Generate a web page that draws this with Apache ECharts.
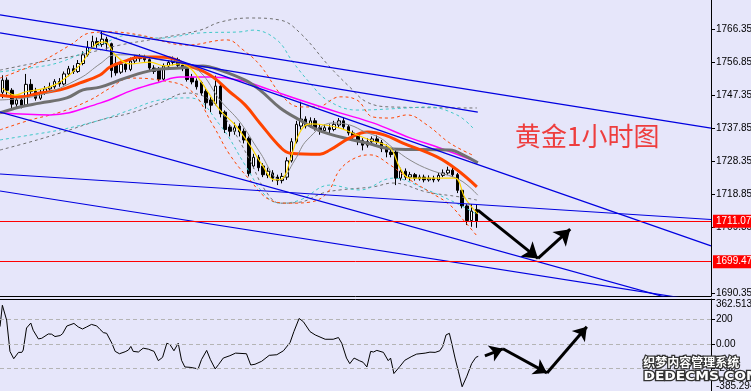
<!DOCTYPE html>
<html><head><meta charset="utf-8">
<script src="https://cdn.jsdelivr.net/npm/echarts@6/dist/echarts.min.js"></script>
<style>html,body{margin:0;padding:0;background:#e6e6fa}#c{width:751px;height:391px}</style>
</head><body><div id="c"></div>
<script>
// ---- tick labels ----
const priceTicks = [1766.35,1756.85,1747.35,1737.85,1728.35,1718.85,1709.35,1690.35];
const cciTicks = [362.5133, 200, 0, -200, -385.294];
const cciLabels = ['362.5133','200','0.00','-200','-385.294'];
const levels = [1711.07, 1699.47];

// ---- hourly candles: [open, close, low, high] ----
const candles = [
[1748.2,1751.7,1746.5,1753.1],[1751.7,1748.8,1747.5,1752.5],[1748.8,1744.8,1743.5,1749.4],[1744.8,1746.0,1744.0,1747.0],
[1746.0,1744.5,1743.6,1746.8],[1744.5,1750.5,1744.0,1753.5],[1750.5,1748.5,1747.5,1752.0],[1748.5,1746.5,1745.8,1749.5],
[1746.5,1748.0,1746.0,1749.0],[1748.0,1749.2,1747.5,1750.0],[1749.2,1749.8,1748.7,1751.0],[1749.8,1751.3,1749.2,1752.0],
[1751.3,1750.6,1749.8,1752.3],[1750.6,1753.5,1750.2,1754.2],[1753.5,1755.0,1752.8,1755.8],[1755.0,1754.2,1753.5,1756.0],
[1754.2,1756.5,1753.8,1757.5],[1756.5,1759.0,1756.0,1760.0],[1759.0,1761.2,1758.5,1763.0],[1761.2,1762.8,1760.8,1764.5],
[1762.8,1762.0,1761.0,1764.0],[1762.0,1763.5,1761.3,1765.8],[1763.5,1762.2,1760.5,1764.2],[1762.2,1754.5,1752.5,1762.5],
[1756.5,1753.8,1753.0,1758.5],[1754.0,1756.3,1753.5,1757.3],[1756.3,1754.8,1754.0,1757.5],[1754.8,1757.2,1754.3,1758.2],
[1757.2,1757.9,1756.5,1758.8],[1757.9,1758.3,1757.0,1759.2],[1758.3,1757.6,1757.0,1759.0],[1757.6,1755.2,1754.6,1758.0],
[1755.2,1754.2,1753.5,1756.0],[1754.8,1752.0,1751.3,1755.5],[1752.0,1755.8,1751.5,1756.5],[1755.8,1756.8,1755.0,1757.5],
[1756.8,1757.6,1756.0,1758.5],[1757.6,1756.0,1755.5,1758.2],[1756.0,1755.0,1754.3,1756.8],[1755.0,1751.9,1751.3,1755.8],
[1752.5,1751.2,1750.5,1753.5],[1751.5,1749.8,1749.0,1752.2],[1751.0,1748.0,1747.2,1751.5],[1748.5,1745.2,1743.5,1749.2],
[1746.0,1744.5,1742.5,1746.8],[1745.0,1750.0,1744.5,1753.0],[1750.0,1742.0,1741.0,1750.5],[1742.5,1737.5,1736.5,1743.0],
[1738.2,1737.0,1735.5,1739.0],[1737.0,1738.0,1736.0,1739.5],[1738.5,1736.8,1735.5,1739.3],[1737.0,1734.5,1733.5,1737.8],
[1735.0,1724.8,1724.0,1735.5],[1727.0,1729.5,1726.3,1730.5],[1729.5,1726.5,1725.5,1730.2],[1727.0,1724.5,1723.8,1727.8],
[1724.3,1725.5,1723.5,1726.5],[1725.0,1723.5,1722.5,1725.8],[1723.8,1722.8,1721.5,1724.5],[1722.8,1724.0,1722.0,1725.0],
[1723.8,1728.5,1723.0,1729.5],[1728.5,1734.0,1728.0,1735.0],[1734.0,1739.0,1733.5,1740.0],[1738.5,1740.5,1737.5,1745.5],
[1740.5,1738.5,1737.8,1741.3],[1738.5,1740.0,1738.0,1741.0],[1740.0,1738.0,1737.2,1740.8],[1738.0,1737.2,1736.0,1739.0],
[1737.2,1738.0,1736.5,1739.0],[1738.0,1737.5,1736.5,1739.0],[1737.5,1739.0,1737.0,1740.0],[1738.8,1740.0,1738.0,1740.8],
[1740.0,1738.3,1737.5,1741.0],[1738.3,1736.5,1735.8,1738.8],[1736.5,1735.5,1734.5,1737.2],[1735.8,1734.0,1733.0,1736.5],
[1734.3,1733.0,1731.5,1735.0],[1733.0,1734.0,1732.3,1735.0],[1734.0,1734.8,1733.3,1735.5],[1734.8,1734.0,1733.2,1735.8],
[1733.8,1732.0,1731.0,1734.5],[1732.5,1731.0,1729.5,1733.2],[1731.0,1730.3,1729.5,1732.0],[1731.0,1723.5,1721.5,1731.8],
[1723.5,1725.5,1722.8,1726.5],[1725.5,1723.8,1723.0,1726.3],[1723.8,1724.5,1722.8,1725.3],[1724.5,1723.5,1722.8,1725.0],
[1723.3,1723.8,1722.8,1724.5],[1723.8,1723.0,1722.3,1724.5],[1723.0,1723.5,1722.5,1724.3],[1723.5,1723.0,1722.3,1724.2],
[1723.0,1724.3,1722.5,1725.0],[1724.3,1725.0,1723.8,1726.0],[1725.0,1725.8,1724.5,1726.8],[1725.8,1724.5,1723.8,1726.5],
[1724.5,1720.0,1719.2,1725.0],[1720.0,1715.5,1714.8,1720.5],[1715.5,1711.3,1710.0,1716.0],[1711.3,1714.0,1709.5,1716.0],
[1714.5,1711.1,1709.2,1716.0]
];

// ---- moving averages: [bar, price] ----
const maYellow = [[0,1749.4],[2.7,1747.4],[4.8,1748.3],[9,1749.4],[12.2,1751.2],[16.4,1756.1],[19.5,1761.8],[21.6,1762.7],[23.8,1759.0],[26.9,1756.4],[31.1,1756.9],[34.3,1755.8],[37.5,1756.4],[39.6,1755.2],[41.7,1751.7],[43.8,1747.4],[45.9,1743.1],[49.1,1738.8],[52.2,1733.0],[54.8,1727.3],[57.5,1723.0],[59.2,1723.5],[60.7,1728.7],[62.8,1736.8],[64.9,1739.1],[68.0,1738.8],[71.2,1737.9],[73.3,1736.8],[77.5,1734.5],[81.8,1732.2],[83.9,1726.4],[86.0,1723.5],[92.3,1723.5],[95.5,1723.5],[97.6,1717.8],[100.3,1713.2]];
const maGrayThin = [[-0.5,1746.0],[7.9,1747.4],[16.4,1752.3],[20.6,1756.4],[23.8,1759.0],[28.0,1759.0],[33.3,1757.5],[37.5,1756.9],[41.7,1754.1],[45.9,1746.0],[50.1,1739.7],[54.3,1731.0],[58.6,1723.0],[61.7,1728.7],[64.3,1734.5],[69.7,1739.4],[73.3,1738.8],[76.5,1736.8],[79.7,1735.1],[82.4,1732.2],[86.0,1728.7],[90.2,1725.9],[96.5,1723.0],[100.3,1718.6]];
const maOrange = [[-0.5,1747.4],[3.7,1746.9],[7.9,1748.0],[12.2,1748.9],[16.4,1750.9],[20.6,1753.2],[22.7,1755.5],[25.9,1757.2],[29.0,1758.4],[32.2,1758.4],[35.4,1758.1],[38.9,1756.1],[43.8,1753.2],[48.0,1748.3],[51.2,1744.6],[54.3,1739.4],[58.6,1732.5],[60.7,1730.7],[67.0,1730.4],[69.1,1731.6],[73.3,1735.1],[77.1,1736.8],[80.7,1735.9],[84.5,1733.6],[91.7,1729.6],[95.9,1725.9],[100.1,1721.0]];
const maGrayThick = [[-0.5,1742.3],[3.7,1744.0],[7.9,1745.1],[13.6,1746.6],[17.0,1748.9],[20.6,1749.7],[25.9,1752.3],[31.8,1754.6],[37.5,1755.2],[42.3,1755.8],[45.9,1754.6],[51.2,1751.7],[54.3,1748.9],[58.6,1743.7],[62.8,1740.2],[67.6,1736.8],[76.9,1733.6],[82.4,1731.9],[94.4,1731.6],[97.6,1729.9],[100.3,1727.9]];
const maMagenta = [[-0.5,1742.3],[10.0,1741.7],[20.6,1745.1],[27.6,1748.9],[33.2,1751.2],[37.5,1752.6],[43.8,1752.6],[50.1,1751.7],[56.5,1748.9],[62.8,1746.0],[71.2,1742.3],[78.2,1739.4],[86.0,1735.1],[92.3,1732.2],[100.1,1728.2]];

// ---- envelope / band lines ----
const bandGrayUp = [[-0.5,1754.6],[7.9,1756.9],[16.4,1759.0],[24.8,1761.8],[33.2,1763.8],[41.7,1766.1],[45.9,1768.4],[52.2,1769.6],[58.6,1769.0],[62.8,1765.3],[69.1,1755.5],[73.3,1749.7],[76.9,1745.4],[81.8,1744.0],[100.1,1743.7]];
const bandGrayDn = [[-0.5,1731.6],[5.8,1733.9],[12.2,1736.5],[20.6,1740.2],[26.9,1742.2],[33.2,1745.1],[38.9,1748.0],[43.8,1746.0],[48.0,1738.8],[52.2,1728.7],[55.4,1720.1],[58.6,1716.3],[62.8,1716.6],[67.6,1719.2],[71.2,1720.1],[78.2,1721.0],[82.4,1722.1],[89.6,1719.5],[96.5,1718.1],[100.1,1717.2]];
const bandCyanUp = [[-0.5,1754.1],[5.8,1755.2],[12.2,1756.9],[20.6,1761.8],[26.9,1764.7],[33.2,1763.8],[41.7,1765.3],[50.1,1765.6],[52.9,1766.1],[57.9,1763.3],[61.3,1756.9],[64.9,1750.9],[68.5,1746.0],[74.8,1743.1],[85.4,1743.7],[89.6,1744.0],[95.9,1741.7],[99.3,1737.9]];
const bandCyanDn = [[-0.5,1734.5],[5.8,1735.9],[12.2,1737.4],[20.6,1740.2],[26.9,1743.1],[33.2,1746.0],[39.6,1746.6],[45.9,1738.8],[51.2,1727.3],[55.4,1718.6],[58.6,1716.3],[62.8,1717.2],[69.1,1721.5],[75.4,1720.1],[82.4,1723.5],[89.6,1720.1],[96.5,1715.8],[100.3,1712.9]];
const bandRedUp = [[-0.5,1752.3],[7.9,1756.9],[14.3,1761.8],[18.5,1765.3],[22.7,1765.6],[29.0,1764.7],[38.9,1761.8],[47.4,1763.3],[50.8,1760.4],[54.3,1756.1],[59.2,1746.9],[62.8,1744.0],[66.4,1744.0],[71.2,1746.9],[74.8,1746.0],[78.2,1741.1],[81.8,1740.8],[85.4,1741.7],[89.6,1738.8],[94.4,1733.6],[99.1,1730.2]];
const bandRedDn = [[-0.5,1737.4],[5.8,1740.2],[12.2,1742.5],[18.5,1746.0],[22.7,1749.4],[26.9,1752.3],[33.2,1751.7],[39.6,1748.9],[44.4,1738.8],[48.0,1730.2],[52.2,1723.0],[56.5,1717.2],[60.7,1716.3],[64.9,1716.6],[68.5,1719.2],[71.2,1725.9],[74.4,1729.3],[77.6,1730.2],[81.8,1727.3],[86.0,1723.0],[90.2,1719.5],[94.4,1715.8],[97.6,1710.9],[100.3,1706.6]];

// ---- trend lines: [bar, price] end points ----
const trendLines = [
  [[-0.5,1770.5],[149.5,1737.9]],
  [[-0.5,1765.3],[100.3,1742.5]],
  [[20.6,1765.3],[149.5,1704.0]],
  [[-0.5,1724.7],[149.5,1711.6]],
  [[-0.5,1719.8],[149.5,1687.7]],
  [[-0.5,1742.5],[149.5,1685.6]]
];
// forecast arrows (price panel and CCI panel)
const arrowPrice = [[100.3,1714.3],[113.0,1700.4],[119.8,1708.8]];
const arrowCciSmall = [[101.8,-97],[105.6,-40]];
const arrowCci = [[105.6,-40],[114.9,-235],[123.3,138]];

// ---- CCI indicator: [bar, value] ----
const cci = [[-0.5,139],[0,312],[0.9,192],[1.6,-61],[2.4,-120],[3.4,-69],[4.1,-69],[4.4,-50],[5.1,128],[6.0,168],[6.5,110],[7.6,40],[8.3,45],[9.7,80],[10.4,78],[11.1,59],[12.2,67],[12.7,82],[13.6,144],[15.1,165],[16.0,137],[16.9,120],[17.8,137],[18.8,157],[19.9,145],[20.6,117],[21.3,91],[22.0,85],[23.1,5],[23.8,-61],[24.7,-80],[25.9,-64],[26.6,-50],[27.1,-21],[27.6,-61],[28.7,-66],[29.7,-35],[30.8,-43],[32.0,-61],[32.9,-136],[33.8,-109],[34.7,5],[35.4,-8],[36.2,-56],[37.1,5],[37.8,-133],[38.5,-187],[39.6,-190],[40.6,-197],[41.3,-203],[42.0,-128],[43.1,-53],[43.9,-128],[44.9,-203],[45.6,-168],[46.6,-115],[48.0,-96],[49.2,-75],[51.5,-80],[52.4,-171],[53.3,-165],[54.7,-141],[56.3,-93],[57.9,-88],[59.3,-56],[60.7,11],[61.5,99],[62.6,205],[63.5,179],[64.9,99],[66.0,72],[68.1,37],[69.8,37],[70.9,51],[71.6,5],[72.6,-115],[73.3,-160],[74.2,-115],[75.3,-136],[76.1,-149],[76.9,-187],[77.7,-61],[78.3,-66],[79.0,-53],[80.4,-69],[81.4,-136],[81.9,-115],[82.6,-240],[83.9,-181],[84.9,-133],[86.4,-101],[87.4,-83],[89.2,-75],[90.2,-67],[91.3,-69],[92.3,-56],[92.9,-21],[93.6,72],[94.3,85],[94.8,5],[95.5,-115],[96.2,-221],[97.0,-347],[98.0,-261],[99.0,-160],[99.9,-109],[100.4,-101]];

const chart = echarts.init(document.getElementById('c'), null, {renderer:'canvas'});
const FONT = 'Liberation Sans';
function band(data, color){
  return {type:'line', xAxisIndex:0, yAxisIndex:0, data, showSymbol:false, smooth:0.4, silent:true,
    lineStyle:{color, width:1, type:[3,3]}, z:3};
}
function ma(data, color, width){
  return {type:'line', xAxisIndex:0, yAxisIndex:0, data, showSymbol:false, smooth:0.4, silent:true,
    lineStyle:{color, width}, z:4};
}
const series = [
  {type:'candlestick', xAxisIndex:0, yAxisIndex:0, barWidth:3, z:2,
   data: candles.map((d,i)=>[i, d[0], d[1], d[2], d[3]]),
   itemStyle:{color:'#ffffff', color0:'#000000', borderColor:'#000000', borderColor0:'#000000', borderWidth:1},
   markLine:{silent:true, symbol:'none', z:10,
     lineStyle:{color:'#ff0000', width:1, type:'solid'},
     label:{show:true, position:'end', distance:2, color:'#ffffff', backgroundColor:'#ff0000',
       fontFamily:FONT, fontSize:10, padding:[2,3,1,3], formatter:p=>p.value.toFixed(2)},
     data: levels.map(v=>({yAxis:v}))}
  },
  band(bandGrayUp,'#707070'), band(bandGrayDn,'#707070'),
  band(bandCyanUp,'#40c8c8'), band(bandCyanDn,'#40c8c8'),
  band(bandRedUp,'#ff4500'), band(bandRedDn,'#ff4500'),
  ma(maMagenta,'#ff00ff',1.5),
  ma(maGrayThick,'#707070',3),
  ma(maOrange,'#ff4500',3),
  ma(maGrayThin,'#8a8a8a',1),
  ma(maYellow,'#ffd700',1.2),
];
trendLines.forEach(t=>series.push({type:'line', xAxisIndex:0, yAxisIndex:0, data:t, showSymbol:false, silent:true,
  clip:true, lineStyle:{color:'#0000e0', width:1.2}, z:5}));
function arrowSegs(pts){
  const segs=[]; for(let i=0;i<pts.length-1;i++) segs.push([{coord:pts[i]},{coord:pts[i+1]}]); return segs;
}
series.push({type:'line', xAxisIndex:0, yAxisIndex:0, data:trendLines[0], showSymbol:false, silent:true,
  lineStyle:{opacity:0}, z:8,
  markLine:{silent:true, symbol:['none','arrow'], symbolSize:15, lineStyle:{color:'#000', width:3, type:'solid'},
    itemStyle:{color:'#000'}, label:{show:false}, data:arrowSegs(arrowPrice)}});
series.push({type:'line', xAxisIndex:1, yAxisIndex:1, data:cci, showSymbol:false, silent:true,
  lineStyle:{color:'#000', width:1}, z:4,
  markLine:{silent:true, symbol:'none', label:{show:false}, lineStyle:{color:'#b4b4b4', width:1, type:[4,3]},
    data:[{yAxis:200},{yAxis:0},{yAxis:-200}]}});
series.push({type:'line', xAxisIndex:1, yAxisIndex:1, data:cci.slice(0,2), showSymbol:false, silent:true,
  lineStyle:{opacity:0}, z:8,
  markLine:{silent:true, symbol:['none','arrow'], symbolSize:13, lineStyle:{color:'#000', width:3, type:'solid'},
    itemStyle:{color:'#000'}, label:{show:false}, data:arrowSegs(arrowCciSmall).concat(arrowSegs(arrowCci))}});

const option = {
  animation:false,
  backgroundColor:'#e6e6fa',
  grid:[
    {left:0, top:0, width:711, height:296, containLabel:false, outerBoundsMode:'none'},
    {left:0, top:299, width:711, height:92.5, containLabel:false, outerBoundsMode:'none'}
  ],
  xAxis:[
    {type:'value', gridIndex:0, min:-0.5, max:149.5, axisLine:{show:true, onZero:false, lineStyle:{color:'#000'}},
     axisTick:{show:false}, axisLabel:{show:false}, splitLine:{show:false}},
    {type:'value', gridIndex:1, min:-0.5, max:149.5, position:'top', axisLine:{show:true, onZero:false, lineStyle:{color:'#000'}},
     axisTick:{show:false}, axisLabel:{show:false}, splitLine:{show:false}}
  ],
  yAxis:[
    {type:'value', gridIndex:0, position:'right', min:1689.58, max:1774.78, scale:true,
     axisLine:{show:true, onZero:false, lineStyle:{color:'#000'}},
     axisTick:{show:true, customValues:priceTicks, length:4, lineStyle:{color:'#000'}},
     axisLabel:{customValues:priceTicks, formatter:v=>v.toFixed(2), color:'#000', fontFamily:FONT, fontSize:10, margin:5},
     splitLine:{show:false}},
    {type:'value', gridIndex:1, position:'right', min:-385.294, max:362.5133,
     axisLine:{show:true, onZero:false, lineStyle:{color:'#000'}},
     axisTick:{show:true, customValues:cciTicks, length:4, lineStyle:{color:'#000'}},
     axisLabel:{customValues:cciTicks, color:'#000', fontFamily:FONT, fontSize:10, margin:5,
       formatter:v=>{const k=cciTicks.indexOf(v); const s=k>=0?cciLabels[k]:String(v);
         return k===0?'{t|'+s+'}':(k===4?'{b|'+s+'}':s);},
       rich:{t:{padding:[11,0,0,0], fontFamily:FONT, fontSize:10, color:'#000'},
             b:{padding:[0,0,11,0], fontFamily:FONT, fontSize:10, color:'#000'}}},
     splitLine:{show:false}}
  ],
  graphic:[
    {type:'text', left:515, top:123, z:50, silent:true,
     style:{text:'黄金1小时图', fill:'#ee3e3e', font:'26px "Noto Sans CJK SC"'}},
    {type:'text', left:642, top:355, z:60, silent:true,
     style:{text:'织梦内容管理系统', fill:'#ffffff', stroke:'#333333', lineWidth:2.5, font:'bold 12px "Noto Sans CJK SC"'}},
    {type:'text', left:642, top:370, z:60, silent:true, scaleX:1.15,
     style:{text:'DEDECMS.COM', fill:'#ffffff', stroke:'#333333', lineWidth:2.5, font:'bold 12px "DejaVu Sans"'}}
  ],
  series
};
chart.setOption(option);
</script></body></html>
